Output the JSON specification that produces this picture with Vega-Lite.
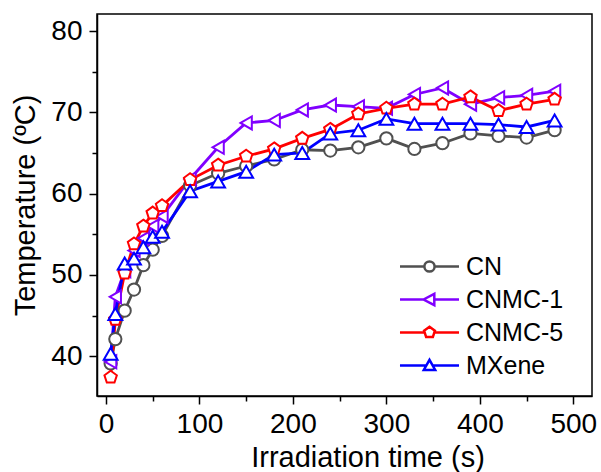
{
  "$schema": "https://vega.github.io/schema/vega-lite/v6.json",
  "width": 495,
  "height": 382,
  "autosize": "none",
  "padding": {"left": 97, "top": 14, "right": 9, "bottom": 76},
  "background": "white",
  "config": {
    "font": "Liberation Sans",
    "view": {"stroke": "black", "strokeWidth": 1.5},
    "axis": {
      "grid": false,
      "domainColor": "black",
      "domainWidth": 1.5,
      "tickColor": "black",
      "tickWidth": 1.5,
      "labelColor": "black",
      "labelFont": "Liberation Sans",
      "labelFontSize": 28,
      "titleColor": "black",
      "titleFont": "Liberation Sans",
      "titleFontSize": 29,
      "titleFontWeight": "normal",
      "labelOverlap": false,
      "labelFlush": false
    }
  },
  "data": {
    "values": [
      {"t": 5, "CN": 39.1, "CNMC-1": 39.3, "CNMC-5": 37.4, "MXene": 40.3},
      {"t": 10, "CN": 42.1, "CNMC-1": 47.3, "CNMC-5": 44.5, "MXene": 45.2},
      {"t": 20, "CN": 45.6, "CNMC-1": 50.5, "CNMC-5": 50.2, "MXene": 51.4},
      {"t": 30, "CN": 48.2, "CNMC-1": 53.0, "CNMC-5": 53.8, "MXene": 52.0},
      {"t": 40, "CN": 51.2, "CNMC-1": 54.5, "CNMC-5": 56.0, "MXene": 53.4},
      {"t": 50, "CN": 53.1, "CNMC-1": 56.0, "CNMC-5": 57.6, "MXene": 54.7},
      {"t": 60, "CN": 54.8, "CNMC-1": 57.2, "CNMC-5": 58.5, "MXene": 55.3},
      {"t": 90, "CN": 61.0, "CNMC-1": 61.8, "CNMC-5": 61.7, "MXene": 60.3},
      {"t": 120, "CN": 62.5, "CNMC-1": 65.7, "CNMC-5": 63.5, "MXene": 61.5},
      {"t": 150, "CN": 63.4, "CNMC-1": 68.7, "CNMC-5": 64.6, "MXene": 62.7},
      {"t": 180, "CN": 64.2, "CNMC-1": 69.0, "CNMC-5": 65.5, "MXene": 64.8},
      {"t": 210, "CN": 65.4, "CNMC-1": 70.3, "CNMC-5": 66.8, "MXene": 65.0},
      {"t": 240, "CN": 65.3, "CNMC-1": 70.9, "CNMC-5": 67.9, "MXene": 67.4},
      {"t": 270, "CN": 65.7, "CNMC-1": 70.7, "CNMC-5": 69.8, "MXene": 67.8},
      {"t": 300, "CN": 66.8, "CNMC-1": 70.5, "CNMC-5": 70.5, "MXene": 69.2},
      {"t": 330, "CN": 65.5, "CNMC-1": 72.2, "CNMC-5": 71.0, "MXene": 68.6},
      {"t": 360, "CN": 66.2, "CNMC-1": 73.0, "CNMC-5": 71.0, "MXene": 68.6},
      {"t": 390, "CN": 67.4, "CNMC-1": 71.0, "CNMC-5": 71.9, "MXene": 68.6},
      {"t": 420, "CN": 67.1, "CNMC-1": 71.8, "CNMC-5": 70.2, "MXene": 68.5},
      {"t": 450, "CN": 66.9, "CNMC-1": 72.1, "CNMC-5": 71.0, "MXene": 68.2},
      {"t": 480, "CN": 67.8, "CNMC-1": 72.6, "CNMC-5": 71.6, "MXene": 69.0}
    ]
  },
  "transform": [{"fold": ["CN", "CNMC-1", "CNMC-5", "MXene"], "as": ["s", "T"]}],
  "encoding": {
    "x": {
      "field": "t",
      "type": "quantitative",
      "scale": {"domain": [-9.6, 520], "nice": false, "zero": false},
      "axis": {
        "title": "Irradiation time (s)",
        "values": [0, 50, 100, 150, 200, 250, 300, 350, 400, 450, 500],
        "labelExpr": "datum.value % 100 === 0 ? datum.label : ''",
        "tickSize": {"condition": {"test": "datum.value % 100 === 0", "value": 8}, "value": 5},
        "labelPadding": 6,
        "titleX": 270.5,
        "titleY": 70.7,
        "titleBaseline": "alphabetic",
        "titleAlign": "center"
      }
    },
    "y": {
      "field": "T",
      "type": "quantitative",
      "scale": {"domain": [35.1, 82.1], "nice": false, "zero": false},
      "axis": {
        "title": "Temperature (ºC)",
        "values": [40, 45, 50, 55, 60, 65, 70, 75, 80],
        "labelExpr": "datum.value % 10 === 0 ? datum.label : ''",
        "tickSize": {"condition": {"test": "datum.value % 10 === 0", "value": 8}, "value": 5},
        "labelPadding": 7,
        "titleX": -63,
        "titleY": 191,
        "titleAngle": -90,
        "titleBaseline": "alphabetic",
        "titleAlign": "center"
      }
    },
    "color": {
      "field": "s",
      "type": "nominal",
      "scale": {"domain": ["CN", "CNMC-1", "CNMC-5", "MXene"], "range": ["#505050", "#8000ff", "#ff0000", "#0000ff"]},
      "legend": {
        "orient": "none",
        "legendX": 320,
        "legendY": 240,
        "title": null,
        "padding": 0,
        "labelFont": "Liberation Sans",
        "labelFontSize": 25,
        "labelColor": "black",
        "symbolSize": 144,
        "symbolStrokeWidth": 2.5,
        "symbolOpacity": 1,
        "labelOffset": 24,
        "rowPadding": 7,
        "encode": {
          "symbols": {
            "update": {
              "fill": {"value": "white"},
              "shape": {"signal": "datum.value === 'CN' ? 'M-4.92,0H-0.85M0.85,0H4.92M-0.85,0A0.85,0.85,0,1,0,0.85,0A0.85,0.85,0,1,0,-0.85,0Z' : datum.value === 'CNMC-1' ? 'M-4.92,0H-1M0.8,0H4.92M-1,0L0.8,-0.95L0.8,0.95Z' : datum.value === 'CNMC-5' ? 'M-4.92,0H-0.81M0.81,0H4.92M0,-0.95L0.904,-0.294L0.558,0.769L-0.558,0.769L-0.904,-0.294Z' : 'M-4.92,0H-0.53M0.53,0H4.92M0,-0.95L0.95,0.75L-0.95,0.75Z'"}
            }
          }
        }
      }
    }
  },
  "layer": [
    {
      "mark": {"type": "line", "strokeWidth": 2.8}
    },
    {
      "transform": [{"filter": "datum.s === 'CN'"}],
      "mark": {"type": "point", "shape": "circle", "filled": false, "fill": "white", "strokeWidth": 2, "size": 150, "opacity": 1}
    },
    {
      "transform": [{"filter": "datum.s === 'CNMC-1'"}],
      "mark": {"type": "point", "shape": "triangle-left", "filled": false, "fill": "white", "strokeWidth": 2, "size": 170, "opacity": 1}
    },
    {
      "transform": [{"filter": "datum.s === 'CNMC-5'"}],
      "mark": {"type": "point", "shape": "M0,-1L0.951,-0.309L0.588,0.809L-0.588,0.809L-0.951,-0.309Z", "filled": false, "fill": "white", "strokeWidth": 2, "size": 170, "opacity": 1}
    },
    {
      "transform": [{"filter": "datum.s === 'MXene'"}],
      "mark": {"type": "point", "shape": "triangle-up", "filled": false, "fill": "white", "strokeWidth": 2, "size": 190, "opacity": 1}
    }
  ]
}
